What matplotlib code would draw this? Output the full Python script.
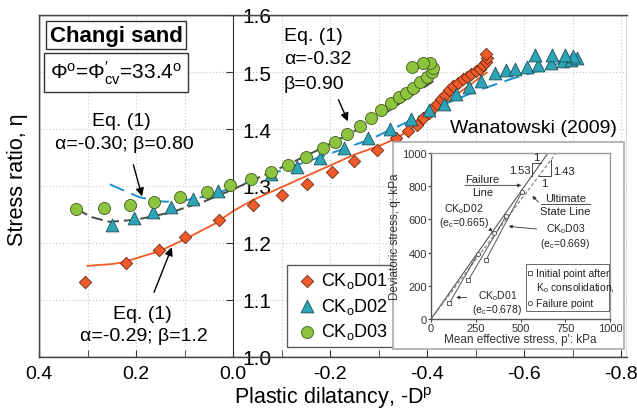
import numpy as np
import matplotlib
matplotlib.use("Agg")
import matplotlib.pyplot as plt
from matplotlib.patches import Rectangle

plt.rcParams['font.family'] = ['Liberation Sans', 'DejaVu Sans']
plt.rcParams['mathtext.fontset'] = 'custom'
plt.rcParams['mathtext.rm'] = 'Liberation Sans'
plt.rcParams['mathtext.it'] = 'Liberation Sans:italic'
plt.rcParams['mathtext.bf'] = 'Liberation Sans:bold'

# ---------------- data (main plot) ----------------
d01_x = [0.305, 0.221, 0.153, 0.099, 0.030, -0.042, -0.101, -0.152, -0.203, -0.250, -0.296,
         -0.335, -0.361, -0.379, -0.391, -0.403, -0.412, -0.420, -0.429, -0.437, -0.446, -0.454,
         -0.463, -0.473, -0.482, -0.491, -0.500, -0.509, -0.516, -0.521, -0.523, -0.522]
d01_y = [1.131, 1.165, 1.188, 1.210, 1.241, 1.266, 1.284, 1.303, 1.325, 1.343, 1.363,
         1.384, 1.396, 1.407, 1.419, 1.428, 1.436, 1.444, 1.452, 1.460, 1.468, 1.475,
         1.481, 1.487, 1.492, 1.497, 1.501, 1.506, 1.512, 1.518, 1.525, 1.531]

d02_x = [0.250, 0.204, 0.164, 0.127, 0.083, 0.032, -0.079, -0.131, -0.179, -0.229, -0.278,
         -0.324, -0.367, -0.403, -0.434, -0.460, -0.487, -0.511, -0.540, -0.563, -0.582,
         -0.606, -0.628, -0.655, -0.680, -0.697, -0.708, -0.701, -0.684, -0.658, -0.622]
d02_y = [1.231, 1.243, 1.255, 1.264, 1.278, 1.292, 1.321, 1.334, 1.349, 1.367, 1.384,
         1.400, 1.417, 1.433, 1.444, 1.462, 1.474, 1.485, 1.499, 1.503, 1.506,
         1.509, 1.512, 1.516, 1.519, 1.521, 1.524, 1.528, 1.530, 1.530, 1.530]

d03_x = [0.324, 0.266, 0.213, 0.163, 0.109, 0.053, 0.006, -0.038, -0.078, -0.114, -0.151,
         -0.185, -0.211, -0.235, -0.261, -0.285, -0.305, -0.326, -0.343, -0.357, -0.371,
         -0.386, -0.400, -0.410, -0.413, -0.405, -0.391, -0.369]
d03_y = [1.259, 1.262, 1.266, 1.272, 1.281, 1.290, 1.302, 1.312, 1.325, 1.337, 1.351,
         1.366, 1.378, 1.392, 1.406, 1.419, 1.434, 1.446, 1.456, 1.463, 1.472,
         1.483, 1.492, 1.500, 1.507, 1.516, 1.516, 1.509]

fit01_x = [0.300, 0.250, 0.227, 0.151, 0.096, 0.035, 0.0, -0.040, -0.100, -0.150, -0.200,
           -0.250, -0.300, -0.330, -0.360, -0.400, -0.470, -0.523]
fit01_y = [1.160, 1.163, 1.166, 1.186, 1.208, 1.235, 1.256, 1.275, 1.298, 1.317, 1.336,
           1.355, 1.370, 1.381, 1.396, 1.422, 1.466, 1.499]

fit02_x = [0.254, 0.220, 0.192, 0.150, 0.117, 0.055, 0.0, -0.075, -0.177, -0.280, -0.369,
           -0.437, -0.506, -0.574, -0.630, -0.670, -0.705]
fit02_y = [1.303, 1.290, 1.280, 1.273, 1.272, 1.282, 1.297, 1.320, 1.350, 1.381, 1.416,
           1.444, 1.468, 1.488, 1.502, 1.515, 1.527]

fit03_x = [0.322, 0.290, 0.254, 0.199, 0.131, 0.062, 0.0, -0.040, -0.109, -0.177, -0.246,
           -0.314, -0.413]
fit03_y = [1.259, 1.245, 1.237, 1.241, 1.253, 1.272, 1.294, 1.310, 1.336, 1.364, 1.394,
           1.428, 1.484]

series_labels = [r"CK$_\mathrm{o}$D01", r"CK$_\mathrm{o}$D02", r"CK$_\mathrm{o}$D03"]
x_ticks = [0.4, 0.2, 0.0, -0.2, -0.4, -0.6, -0.8]
x_ticklabels = ["0.4", "0.2", "0.0", "-0.2", "-0.4", "-0.6", "-0.8"]
y_ticks = [1.0, 1.1, 1.2, 1.3, 1.4, 1.5, 1.6]
y_ticklabels = ["1.0", "1.1", "1.2", "1.3", "1.4", "1.5", "1.6"]

# ---------------- data (inset) ----------------
ins_sq_p = [103, 209, 307]
ins_sq_q = [96, 235, 355]
ins_ci_p = [262, 350, 420, 507]
ins_ci_q = [394, 516, 622, 763]
path01_p = [103, 262]; path01_q = [96, 394]
path02_p = [209, 420]; path02_q = [235, 622]
path03_p = [307, 507]; path03_q = [355, 763]
failure_slope = 1.53
uls_slope = 1.43
ins_ticks = [0, 250, 500, 750, 1000]
ins_yticks = [0, 200, 400, 600, 800, 1000]

RED = '#ee5a2a'
TEAL = '#2ea4b7'
GREEN = '#8dc33f'
REDLINE = '#f15a24'
BLUE = '#1c8fd0'
DARK = '#454f40'

fig = plt.figure(figsize=(6.37, 4.14), dpi=100)
W, H = 637, 414
ax = fig.add_axes([39 / W, 1 - 358 / H, 588 / W, 342 / H])
ax.set_xlim(0.4, -0.812)
ax.set_ylim(1.0, 1.6)

ax.set_xticks(x_ticks)
ax.set_xticklabels(x_ticklabels)
ax.set_xticks(np.arange(-0.7, 0.4, 0.2), minor=True)
ax.set_yticks(y_ticks)
ax.set_yticklabels(y_ticklabels)
ax.grid(True, which='both', linestyle=(0, (1, 2)), color='#c8c8c8', lw=0.8)
ax.set_axisbelow(True)

for s in ['left', 'top', 'bottom']:
    ax.spines[s].set_color('#444')
    ax.spines[s].set_linewidth(1.0)
ax.spines['right'].set_position(('data', 0.0))
ax.spines['right'].set_color('#333')
ax.yaxis.tick_right()
ax.tick_params(axis='y', which='both', direction='in', length=5, pad=7, colors='#333',
               labelcolor='black', labelsize=15)
ax.tick_params(axis='x', which='both', direction='in', length=5, pad=6, colors='#333',
               labelcolor='black', top=False, labelsize=14)
ax.add_patch(Rectangle((0, 0), 1, 1, transform=ax.transAxes, fill=False,
                       ec='#444', lw=1.0, zorder=5))

ax.set_xlabel(r"Plastic dilatancy, -D$^\mathrm{p}$", fontsize=15.5, labelpad=1)
ax.yaxis.set_label_position('left')
ax.set_ylabel(r"Stress ratio, η", fontsize=15.5)
ax.yaxis.set_label_coords(-0.018, 0.52)

# fits
ax.plot(fit01_x, fit01_y, '-', color=REDLINE, lw=1.3, zorder=2)
ax.plot(fit02_x, fit02_y, '--', color=BLUE, lw=1.4, dashes=(8, 4), zorder=2)
ax.plot(fit03_x, fit03_y, '--', color=DARK, lw=1.4, dashes=(6, 2.5), zorder=2)

# data
h1 = ax.scatter(d01_x, d01_y, marker='D', s=40, c=RED, edgecolors='#6a2a10', linewidths=0.6,
                zorder=3, label=series_labels[0])
h2 = ax.scatter(d02_x, d02_y, marker='^', s=85, c=TEAL, edgecolors='#1d4f58', linewidths=0.6,
                zorder=3, label=series_labels[1])
h3 = ax.scatter(d03_x, d03_y, marker='o', s=75, c=GREEN, edgecolors='#3f5a1d', linewidths=0.6,
                zorder=3, label=series_labels[2])

leg = ax.legend(handles=[h1, h2, h3], loc='upper left',
                bbox_to_anchor=(248 / 588, (358 - 266) / 342),
                fontsize=13, frameon=True, fancybox=False, edgecolor='#333',
                borderpad=0.3, labelspacing=0.3, handletextpad=0.0, handlelength=1.6,
                borderaxespad=0)
leg.get_frame().set_linewidth(1.0)

# text boxes
ax.text(0.131, 0.941, "Changi sand", transform=ax.transAxes, fontsize=16, fontweight='bold',
        ha='center', va='center',
        bbox=dict(boxstyle='square,pad=0.15', fc='white', ec='#333', lw=1.0), zorder=6)
ax.text(0.131, 0.833, r"$\Phi^\mathrm{o}$=$\Phi^{\prime}_\mathrm{cv}$=33.4$^\mathrm{o}$",
        transform=ax.transAxes, fontsize=15, ha='center', va='center',
        bbox=dict(boxstyle='square,pad=0.28', fc='white', ec='#333', lw=1.0), zorder=6)

ax.text(0.231, 1.415, "Eq. (1)", fontsize=14, ha='center', va='center')
ax.text(0.224, 1.374, "α=-0.30; β=0.80", fontsize=14, ha='center', va='center')
ax.annotate("", xy=(0.186, 1.277), xytext=(0.207, 1.342),
            arrowprops=dict(arrowstyle='-|>', color='black', lw=1.0, mutation_scale=12))

ax.text(-0.105, 1.564, "Eq. (1)", fontsize=14, ha='left', va='center')
ax.text(-0.105, 1.524, "α=-0.32", fontsize=14, ha='left', va='center')
ax.text(-0.105, 1.480, "β=0.90", fontsize=14, ha='left', va='center')
ax.annotate("", xy=(-0.239, 1.409), xytext=(-0.215, 1.456),
            arrowprops=dict(arrowstyle='-|>', color='black', lw=1.0, mutation_scale=12))

ax.text(0.187, 1.076, "Eq. (1)", fontsize=14, ha='center', va='center')
ax.text(0.183, 1.038, "α=-0.29; β=1.2", fontsize=14, ha='center', va='center')
ax.annotate("", xy=(0.124, 1.197), xytext=(0.165, 1.109),
            arrowprops=dict(arrowstyle='-|>', color='black', lw=1.0, mutation_scale=12))

ax.text(0.841, 0.672, "Wanatowski (2009)", transform=ax.transAxes, fontsize=14,
        ha='center', va='center')

# ---------------- inset ----------------
fig.add_artist(Rectangle((393 / W, 1 - 350 / H), (624 - 393) / W, (350 - 143) / H,
                         transform=fig.transFigure, fc='white', ec='#aaa', lw=1.2, zorder=1))
ax2 = fig.add_axes([431 / W, 1 - 320 / H, (610 - 431) / W, (320 - 154) / H])
ax2.set_zorder(2)
ax2.set_xlim(0, 1000)
ax2.set_ylim(0, 1000)
for s in ax2.spines.values():
    s.set_color('#999')
    s.set_linewidth(1.0)
ax2.spines['left'].set_color('#555')
ax2.spines['bottom'].set_color('#555')
ax2.set_xticks(ins_ticks)
ax2.set_yticks(ins_yticks)
ax2.tick_params(labelsize=8, length=2, pad=1, colors='#444', labelcolor='#333')
ax2.set_xlabel("Mean effective stress, p': kPa", fontsize=8.5, color='#333', labelpad=0)
ax2.set_ylabel("Deviatoric stress, q: kPa", fontsize=8.5, color='#333', labelpad=1)

pp = np.array([0, 1000 / failure_slope])
ax2.plot(pp, failure_slope * pp, '-', color='#555', lw=0.8)
pu = np.array([0, 1000 / uls_slope])
ax2.plot(pu, uls_slope * pu, '--', color='#777', lw=0.8, dashes=(3, 2))
for px_, qy_ in [(path01_p, path01_q), (path02_p, path02_q), (path03_p, path03_q)]:
    ax2.plot(px_, qy_, '-', color='#555', lw=0.7)
ax2.scatter(ins_sq_p, ins_sq_q, marker='s', s=9, facecolors='white', edgecolors='#444',
            linewidths=0.6, zorder=3)
ax2.scatter(ins_ci_p, ins_ci_q, marker='o', s=9, facecolors='white', edgecolors='#444',
            linewidths=0.6, zorder=3)

# slope triangles
ax2.plot([614, 563, 563], [940, 940, 862], color='#444', lw=0.7)
ax2.plot([668, 668, 601], [955, 860, 860], color='#444', lw=0.7)
ax2.text(588, 975, "1", fontsize=8, ha='center', va='center', color='#222')
ax2.text(555, 895, "1.53", fontsize=8, ha='right', va='center', color='#222')
ax2.text(632, 820, "1", fontsize=8, ha='center', va='center', color='#222')
ax2.text(680, 890, "1.43", fontsize=8, ha='left', va='center', color='#222')

ax2.text(288, 845, "Failure", fontsize=8, ha='center', va='center', color='#222')
ax2.text(288, 765, "Line", fontsize=8, ha='center', va='center', color='#222')
ax2.annotate("", xy=(520, 805), xytext=(175, 805),
             arrowprops=dict(arrowstyle='-|>', color='#333', lw=0.6, mutation_scale=5))
ax2.text(750, 728, "Ultimate", fontsize=8, ha='center', va='center', color='#222')
ax2.text(750, 652, "State Line", fontsize=8, ha='center', va='center', color='#222')
ax2.plot([612, 890], [692, 692], color='#333', lw=0.6)
ax2.annotate("", xy=(555, 753), xytext=(612, 692),
             arrowprops=dict(arrowstyle='-|>', color='#333', lw=0.6, mutation_scale=5))

ax2.text(185, 668, r"CK$_\mathrm{o}$D02", fontsize=7.5, ha='center', va='center', color='#222')
ax2.text(185, 582, r"(e$_\mathrm{c}$=0.665)", fontsize=7.5, ha='center', va='center', color='#222')
ax2.annotate("", xy=(355, 515), xytext=(320, 550),
             arrowprops=dict(arrowstyle='-|>', color='#333', lw=0.6, mutation_scale=5))
ax2.text(750, 545, r"CK$_\mathrm{o}$D03", fontsize=7.5, ha='center', va='center', color='#222')
ax2.text(750, 455, r"(e$_\mathrm{c}$=0.669)", fontsize=7.5, ha='center', va='center', color='#222')
ax2.annotate("", xy=(418, 560), xytext=(606, 540),
             arrowprops=dict(arrowstyle='-|>', color='#333', lw=0.6, mutation_scale=5))
ax2.text(370, 145, r"CK$_\mathrm{o}$D01", fontsize=7.5, ha='center', va='center', color='#222')
ax2.text(370, 60, r"(e$_\mathrm{c}$=0.678)", fontsize=7.5, ha='center', va='center', color='#222')
ax2.annotate("", xy=(125, 130), xytext=(215, 130),
             arrowprops=dict(arrowstyle='-|>', color='#333', lw=0.6, mutation_scale=5))

# inset legend
ax2.add_patch(Rectangle((531, 50), 1000 - 531 - 8, 281, fc='white', ec='#666', lw=0.7, zorder=4))
ax2.scatter([553], [280], marker='s', s=9, facecolors='white', edgecolors='#444',
            linewidths=0.6, zorder=5)
ax2.text(585, 280, "Initial point after", fontsize=7.5, ha='left', va='center', color='#222', zorder=5)
ax2.text(585, 190, r"K$_\mathrm{o}$ consolidation,", fontsize=7.5, ha='left', va='center',
         color='#222', zorder=5)
ax2.scatter([553], [95], marker='o', s=9, facecolors='white', edgecolors='#444',
            linewidths=0.6, zorder=5)
ax2.text(585, 95, "Failure point", fontsize=7.5, ha='left', va='center', color='#222', zorder=5)

fig.savefig("out.png", dpi=100)
